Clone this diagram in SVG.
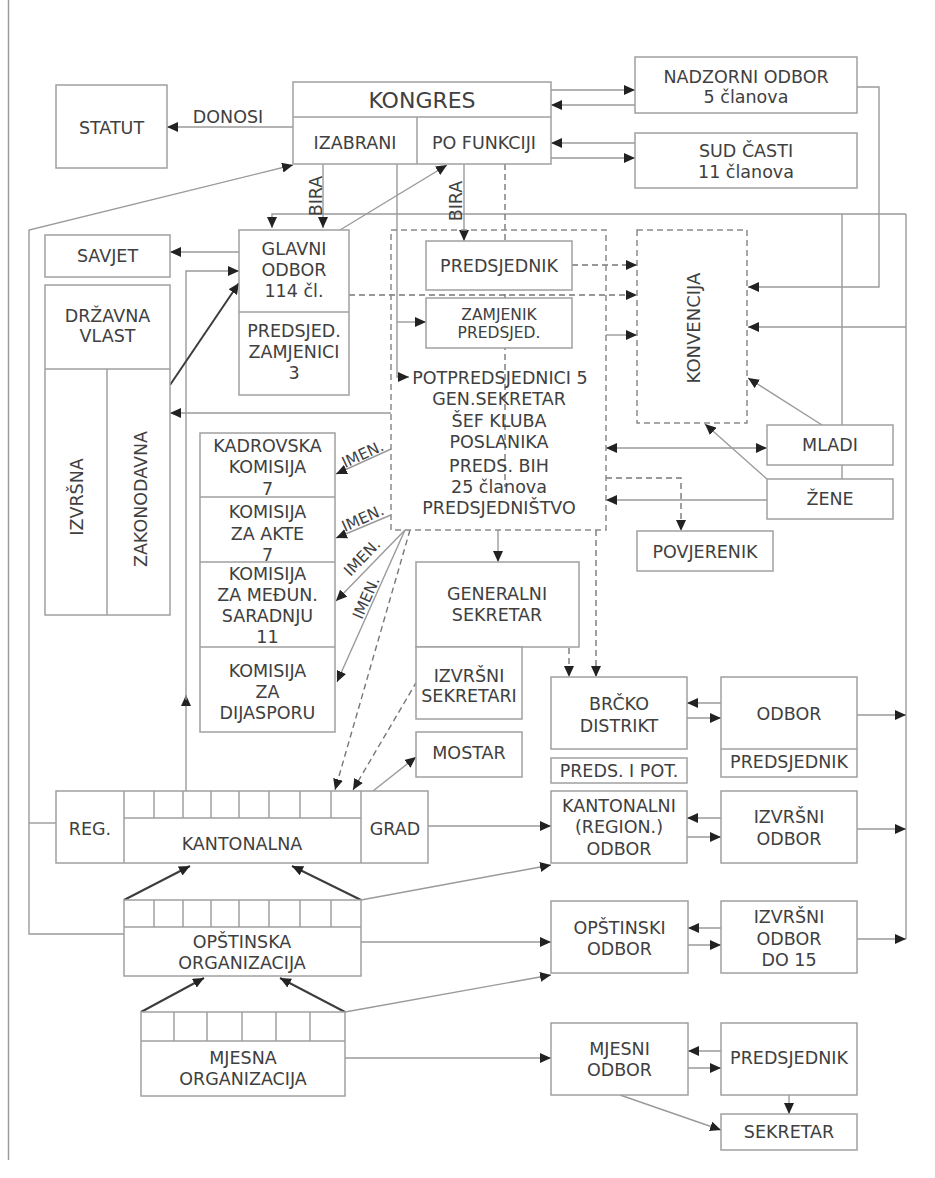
<svg xmlns="http://www.w3.org/2000/svg" width="935" height="1178" viewBox="0 0 935 1178">
  <defs>
    <marker id="arr" viewBox="0 0 11 10" refX="11" refY="5" markerWidth="11" markerHeight="10" markerUnits="userSpaceOnUse" orient="auto-start-reverse">
      <path d="M0,0 L11,5 L0,10 z" fill="#222"/>
    </marker>
    <style>
      .box { fill: #fff; stroke: #a0a0a0; stroke-width: 1.5; }
      .dbox { fill: none; stroke: #8a8a8a; stroke-width: 1.5; stroke-dasharray: 6 4; }
      .div { fill: none; stroke: #a0a0a0; stroke-width: 1.5; }
      .ln { fill: none; stroke: #9a9a9a; stroke-width: 1.4; }
      .dash { stroke-dasharray: 6 4; stroke: #777; }
      .dk { stroke: #3c3c3c; stroke-width: 2; }
      .a { marker-end: url(#arr); }
      .a2 { marker-start: url(#arr); marker-end: url(#arr); }
      text { font-family: "DejaVu Sans", Verdana, sans-serif; font-size: 17.5px; fill: #404040; text-anchor: middle; }
      .big { font-size: 22px; }
      .sm { font-size: 15.5px; }
    </style>
  </defs>

  <rect width="935" height="1178" fill="#fff"/>
  <!-- page margin rule -->
  <line x1="8.5" y1="0" x2="8.5" y2="1160" class="ln"/>

  <!-- connectors -->
  <g id="connectors">
    <path class="ln a" d="M293,127 H167"/>
    <text x="228" y="123">DONOSI</text>
    <path class="ln a" d="M551,90 H635"/>
    <path class="ln a" d="M635,105 H551"/>
    <path class="ln a" d="M635,143 H551"/>
    <path class="ln a" d="M551,158 H635"/>
    <path class="ln a" d="M857,87 H879 V287 H748"/>

    <!-- top bus and right bus -->
    <path class="ln a" d="M906,214 H272 V228"/>
    <path class="ln" d="M906,214 V939"/>
    <path class="ln" d="M842,214 V425 M842,465 V479"/>

    <path class="ln a" d="M323,164 V228"/>
    <text x="322" y="196" transform="rotate(-90 322 196)">BIRA</text>
    <path class="ln a" d="M464,164 V241"/>
    <text x="462" y="201" transform="rotate(-90 462 201)">BIRA</text>

    <!-- left feedback loop to IZABRANI -->
    <path class="ln a" d="M124,934 H29 V230 L293,165"/>
    <path class="ln" d="M29,823 H56"/>
    <path class="ln a" d="M340,230 L447,165"/>

    <path class="ln a" d="M397,164 V377 H409"/>
    <path class="ln a" d="M397,322 H426"/>
    <path class="ln dash" d="M505,164 V487"/>

    <path class="ln a" d="M239,252 H170"/>
    <path class="ln a" d="M186,791 V695"/>
    <path class="ln a" d="M186,700 V271 H239"/>
    <path class="ln dk a" d="M170,385 L239,283"/>
    <path class="ln a" d="M391,413 H170"/>

    <path class="ln dash a" d="M572,265 H637"/>
    <path class="ln dash a" d="M349,295 H637"/>
    <path class="ln a" d="M606,335 H637"/>
    <path class="ln a" d="M906,327 H748"/>
    <path class="ln a" d="M822,425 L748,378"/>
    <path class="ln a" d="M767,479 L705,424"/>
    <path class="ln a2" d="M606,448 H767"/>
    <path class="ln a" d="M767,500 H606"/>
    <path class="ln dash a" d="M606,478 H681 V531"/>

    <!-- appointments of the commissions -->
    <path class="ln a" d="M391,449 L336,474"/>
    <text class="sm" x="365" y="459" transform="rotate(-25 365 459)">IMEN.</text>
    <path class="ln a" d="M391,515 L336,538"/>
    <text class="sm" x="365" y="523" transform="rotate(-24 365 523)">IMEN.</text>
    <path class="ln a" d="M405,530 L336,601"/>
    <text class="sm" x="366" y="561" transform="rotate(-46 366 561)">IMEN.</text>
    <path class="ln a" d="M405,530 L337,682"/>
    <text class="sm" x="371" y="600" transform="rotate(-66 371 600)">IMEN.</text>

    <path class="ln a" d="M498,530 V562"/>
    <path class="ln dash a" d="M569,648 V677"/>
    <path class="ln dash a" d="M596,530 V677"/>
    <path class="ln dash a" d="M410,530 L335,790"/>
    <path class="ln dash a" d="M437,647 L353,790"/>

    <path class="ln a" d="M373,791 L416,757"/>
    <path class="ln a" d="M428,826 H551"/>
    <path class="ln a" d="M361,900 L551,865"/>

    <path class="ln a" d="M721,703 H687"/>
    <path class="ln a" d="M687,718 H721"/>
    <path class="ln a" d="M857,715 H906"/>
    <path class="ln a" d="M721,818 H687"/>
    <path class="ln a" d="M687,837 H721"/>
    <path class="ln a" d="M857,829 H906"/>

    <path class="ln dk a" d="M124,900 L190,866"/>
    <path class="ln dk a" d="M361,900 L292,866"/>
    <path class="ln a" d="M361,942 H551"/>
    <path class="ln a" d="M345,1012 L551,975"/>
    <path class="ln a" d="M721,928 H688"/>
    <path class="ln a" d="M688,945 H721"/>
    <path class="ln a" d="M857,939 H906"/>

    <path class="ln dk a" d="M141,1012 L204,978"/>
    <path class="ln dk a" d="M345,1012 L280,978"/>
    <path class="ln a" d="M345,1058 H551"/>
    <path class="ln a" d="M721,1051 H688"/>
    <path class="ln a" d="M688,1068 H721"/>
    <path class="ln a" d="M789,1095 V1114"/>
    <path class="ln a" d="M620,1095 L721,1130"/>
  </g>

  <g id="statut">
    <rect class="box" x="56" y="85" width="111" height="83"/>
    <text x="111.5" y="134">STATUT</text>
  </g>

  <g id="kongres">
    <rect class="box" x="293" y="82" width="258" height="82"/>
    <path class="div" d="M293,117 H551 M417,117 V164"/>
    <text class="big" x="422" y="108">KONGRES</text>
    <text x="355" y="149">IZABRANI</text>
    <text x="484" y="149">PO FUNKCIJI</text>
  </g>

  <g id="nadzorni-odbor">
    <rect class="box" x="635" y="57" width="222" height="56"/>
    <text x="746" y="83">NADZORNI ODBOR</text>
    <text x="746" y="103">5 članova</text>
  </g>

  <g id="sud-casti">
    <rect class="box" x="635" y="133" width="222" height="55"/>
    <text x="746" y="157">SUD ČASTI</text>
    <text x="746" y="178">11 članova</text>
  </g>

  <g id="savjet">
    <rect class="box" x="45" y="235" width="125" height="42"/>
    <text x="107.5" y="262">SAVJET</text>
  </g>

  <g id="drzavna-vlast">
    <rect class="box" x="45" y="285" width="125" height="330"/>
    <path class="div" d="M45,369 H170 M107,369 V615"/>
    <text x="107.5" y="322">DRŽAVNA</text>
    <text x="107.5" y="342">VLAST</text>
    <text x="83" y="497" transform="rotate(-90 83 497)">IZVRŠNA</text>
    <text x="147" y="499" transform="rotate(-90 147 499)">ZAKONODAVNA</text>
  </g>

  <g id="glavni-odbor">
    <rect class="box" x="239" y="230" width="110" height="165"/>
    <path class="div" d="M239,312 H349"/>
    <text x="294" y="255">GLAVNI</text>
    <text x="294" y="276">ODBOR</text>
    <text x="294" y="297">114 čl.</text>
    <text x="294" y="337">PREDSJED.</text>
    <text x="294" y="358">ZAMJENICI</text>
    <text x="294" y="379">3</text>
  </g>

  <g id="predsjednistvo">
    <rect class="dbox" x="391" y="230" width="215" height="300"/>
    <text x="500" y="384">POTPREDSJEDNICI 5</text>
    <text x="499" y="405">GEN.SEKRETAR</text>
    <text x="499" y="427">ŠEF KLUBA</text>
    <text x="499" y="448">POSLANIKA</text>
    <text x="499" y="472">PREDS. BIH</text>
    <text x="499" y="493">25 članova</text>
    <text x="499" y="514">PREDSJEDNIŠTVO</text>
  </g>

  <g id="predsjednik">
    <rect class="box" x="426" y="241" width="146" height="49"/>
    <text x="499" y="272">PREDSJEDNIK</text>
  </g>

  <g id="zamjenik">
    <rect class="box" x="426" y="298" width="146" height="50"/>
    <text class="sm" x="499" y="320">ZAMJENIK</text>
    <text class="sm" x="499" y="338">PREDSJED.</text>
  </g>

  <g id="konvencija">
    <rect class="dbox" x="637" y="230" width="110" height="193"/>
    <text x="700" y="328" style="font-size:18px" transform="rotate(-90 700 328)">KONVENCIJA</text>
  </g>

  <g id="mladi">
    <rect class="box" x="767" y="425" width="126" height="40"/>
    <text x="830" y="451">MLADI</text>
  </g>

  <g id="zene">
    <rect class="box" x="767" y="479" width="126" height="40"/>
    <text x="830" y="505">ŽENE</text>
  </g>

  <g id="povjerenik">
    <rect class="box" x="637" y="531" width="136" height="40"/>
    <text x="705" y="558">POVJERENIK</text>
  </g>

  <g id="komisije">
    <rect class="box" x="200" y="433" width="135" height="299"/>
    <path class="div" d="M200,497 H335 M200,562 H335 M200,647 H335"/>
    <text x="267.5" y="452">KADROVSKA</text>
    <text x="267.5" y="473">KOMISIJA</text>
    <text x="267.5" y="495">7</text>
    <text x="267.5" y="518">KOMISIJA</text>
    <text x="267.5" y="540">ZA AKTE</text>
    <text x="267.5" y="561">7</text>
    <text x="267.5" y="580">KOMISIJA</text>
    <text x="267.5" y="601">ZA MEĐUN.</text>
    <text x="267.5" y="622">SARADNJU</text>
    <text x="267.5" y="643">11</text>
    <text x="267.5" y="677">KOMISIJA</text>
    <text x="267.5" y="698">ZA</text>
    <text x="267.5" y="719">DIJASPORU</text>
  </g>

  <g id="generalni-sekretar">
    <rect class="box" x="416" y="562" width="163" height="85"/>
    <text x="497" y="600">GENERALNI</text>
    <text x="497" y="621">SEKRETAR</text>
  </g>

  <g id="izvrsni-sekretari">
    <rect class="box" x="416" y="647" width="106" height="72"/>
    <text x="469" y="682">IZVRŠNI</text>
    <text x="469" y="702">SEKRETARI</text>
  </g>

  <g id="mostar">
    <rect class="box" x="416" y="732" width="106" height="45"/>
    <text x="469" y="759">MOSTAR</text>
  </g>

  <g id="brcko">
    <rect class="box" x="551" y="677" width="136" height="72"/>
    <text x="619" y="710">BRČKO</text>
    <text x="619" y="732">DISTRIKT</text>
  </g>

  <g id="preds-i-pot">
    <rect class="box" x="551" y="758" width="136" height="25"/>
    <text x="619" y="777">PREDS. I POT.</text>
  </g>

  <g id="brcko-odbor">
    <rect class="box" x="721" y="677" width="136" height="100"/>
    <path class="div" d="M721,749 H857"/>
    <text x="789" y="720">ODBOR</text>
    <text x="789" y="768">PREDSJEDNIK</text>
  </g>

  <g id="kantonalna">
    <rect class="box" x="56" y="791" width="372" height="72"/>
    <path class="div" d="M124,791 V863 M361,791 V863 M124,818 H361 M154,791 V818 M183,791 V818 M211,791 V818 M239,791 V818 M269,791 V818 M300,791 V818 M331,791 V818"/>
    <text x="90" y="835">REG.</text>
    <text x="242" y="850">KANTONALNA</text>
    <text x="395" y="835">GRAD</text>
  </g>

  <g id="kantonalni-odbor">
    <rect class="box" x="551" y="791" width="136" height="72"/>
    <text x="619" y="812">KANTONALNI</text>
    <text x="619" y="833">(REGION.)</text>
    <text x="619" y="855">ODBOR</text>
  </g>

  <g id="kantonalni-izvrsni">
    <rect class="box" x="721" y="791" width="136" height="72"/>
    <text x="789" y="823">IZVRŠNI</text>
    <text x="789" y="845">ODBOR</text>
  </g>

  <g id="opstinska">
    <rect class="box" x="124" y="900" width="237" height="76"/>
    <path class="div" d="M124,927 H361 M154,900 V927 M183,900 V927 M211,900 V927 M239,900 V927 M269,900 V927 M300,900 V927 M331,900 V927"/>
    <text x="242" y="948">OPŠTINSKA</text>
    <text x="242" y="969">ORGANIZACIJA</text>
  </g>

  <g id="opstinski-odbor">
    <rect class="box" x="551" y="901" width="137" height="72"/>
    <text x="619.5" y="934">OPŠTINSKI</text>
    <text x="619.5" y="955">ODBOR</text>
  </g>

  <g id="opstinski-izvrsni">
    <rect class="box" x="721" y="901" width="136" height="72"/>
    <text x="789" y="923">IZVRŠNI</text>
    <text x="789" y="945">ODBOR</text>
    <text x="789" y="966">DO 15</text>
  </g>

  <g id="mjesna">
    <rect class="box" x="141" y="1012" width="204" height="84"/>
    <path class="div" d="M141,1041 H345 M174,1012 V1041 M207,1012 V1041 M242,1012 V1041 M276,1012 V1041 M310,1012 V1041"/>
    <text x="243" y="1064">MJESNA</text>
    <text x="243" y="1085">ORGANIZACIJA</text>
  </g>

  <g id="mjesni-odbor">
    <rect class="box" x="551" y="1023" width="137" height="72"/>
    <text x="619.5" y="1055">MJESNI</text>
    <text x="619.5" y="1076">ODBOR</text>
  </g>

  <g id="mjesni-predsjednik">
    <rect class="box" x="721" y="1023" width="136" height="72"/>
    <text x="789" y="1064">PREDSJEDNIK</text>
  </g>

  <g id="sekretar">
    <rect class="box" x="721" y="1114" width="136" height="36"/>
    <text x="789" y="1138">SEKRETAR</text>
  </g>
</svg>
